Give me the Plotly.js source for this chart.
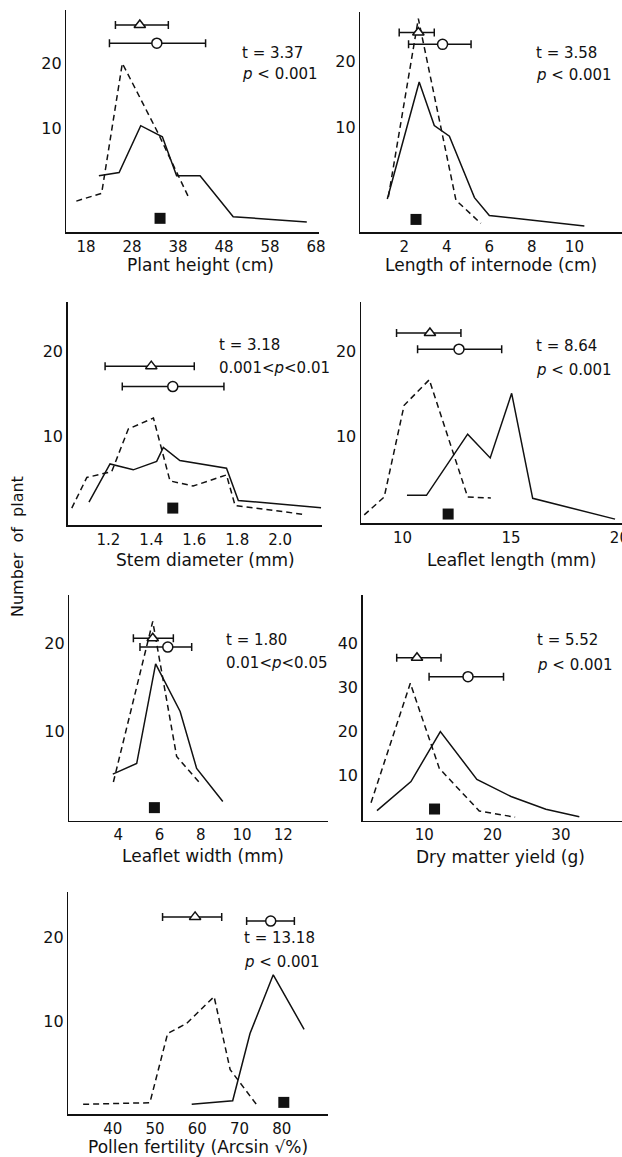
<!DOCTYPE html>
<html>
<head>
<meta charset="utf-8">
<script src="https://cdn.plot.ly/plotly-3.0.1.min.js"></script>
<style>html,body{margin:0;padding:0;background:#fff;}#chart{width:622px;height:1157px;}</style>
</head>
<body>
<div id="chart"></div>
<script>
// ---------- DATA ----------
// Panel 1: Plant height (cm)
const heightDashX  = [15.9, 21.4, 25.9, 33.5, 40.3];
const heightDashY  = [-1.2, 0, 20, 9.5, -0.6];
const heightSolidX = [20.8, 25.2, 29.9, 34.6, 37.7, 42.8, 50.0, 66.0];
const heightSolidY = [2.7, 3.2, 10.4, 8.7, 2.7, 2.7, -3.6, -4.4];
const heightMean   = [29.7, 33.4];   // triangle, circle
const heightLow    = [24.4, 23.1];
const heightHigh   = [35.9, 44.0];
const heightMeanY  = [25.9, 23.1];
const heightSquare = [34.1, -3.85];
const heightTicks  = [18, 28, 38, 48, 58, 68];

// Panel 2: Length of internode (cm)
const internodeDashX  = [1.25, 2.66, 4.43, 5.6];
const internodeDashY  = [-0.5, 26.5, -1.0, -4.5];
const internodeSolidX = [1.2, 2.7, 3.41, 4.12, 5.3, 6.0, 10.47];
const internodeSolidY = [-0.8, 16.9, 10.3, 8.7, -0.6, -3.3, -4.9];
const internodeMean   = [2.66, 3.8];
const internodeLow    = [1.76, 2.2];
const internodeHigh   = [3.41, 5.14];
const internodeMeanY  = [24.4, 22.6];
const internodeSquare = [2.55, -3.9];
const internodeTicks  = [2, 4, 6, 8, 10];

// Panel 3: Stem diameter (mm)
const stemDashX  = [1.03, 1.10, 1.216, 1.293, 1.41, 1.487, 1.595, 1.75, 1.79, 2.107];
const stemDashY  = [1.6, 5.2, 5.9, 10.9, 12.2, 4.8, 4.2, 5.5, 1.9, 0.87];
const stemSolidX = [1.11, 1.208, 1.316, 1.425, 1.456, 1.533, 1.75, 1.805, 2.19];
const stemSolidY = [2.3, 6.8, 6.1, 7.1, 8.75, 7.2, 6.3, 2.5, 1.65];
const stemMean   = [1.4, 1.5];
const stemLow    = [1.185, 1.265];
const stemHigh   = [1.6, 1.738];
const stemMeanY  = [18.3, 15.9];
const stemSquare = [1.5, 1.6];
const stemTicks  = [1.2, 1.4, 1.6, 1.8, 2.0];

// Panel 4: Leaflet length (mm)
const lengthDashX  = [8.23, 9.15, 10.07, 11.23, 13.0, 14.07];
const lengthDashY  = [0.8, 2.9, 13.7, 16.7, 2.9, 2.8];
const lengthSolidX = [10.2, 11.1, 13.0, 14.04, 15.03, 16.0, 19.8];
const lengthSolidY = [3.1, 3.1, 10.3, 7.5, 15.1, 2.75, 0.3];
const lengthMean   = [11.26, 12.6];
const lengthLow    = [9.72, 10.69];
const lengthHigh   = [12.69, 14.57];
const lengthMeanY  = [22.2, 20.3];
const lengthSquare = [12.1, 0.9];
const lengthTicks  = [10, 15, 20];

// Panel 5: Leaflet width (mm)
const widthDashX  = [3.76, 5.67, 6.83, 7.97];
const widthDashY  = [4.3, 22.5, 7.2, 4.15];
const widthSolidX = [3.73, 4.89, 5.81, 6.43, 7.0, 7.8, 9.07];
const widthSolidY = [5.2, 6.4, 17.7, 14.9, 12.3, 5.85, 2.1];
const widthMean   = [5.67, 6.4];
const widthLow    = [4.73, 5.05];
const widthHigh   = [6.67, 7.56];
const widthMeanY  = [20.6, 19.6];
const widthSquare = [5.75, 1.4];
const widthTicks  = [4, 6, 8, 10, 12];

// Panel 6: Dry matter yield (g)
const yieldDashX  = [2.2, 7.95, 12.2, 18.05, 23.3];
const yieldDashY  = [3.7, 30.9, 11.5, 1.8, 0.4];
const yieldSolidX = [3.07, 8.05, 12.35, 17.7, 22.7, 27.8, 32.7];
const yieldSolidY = [1.9, 8.5, 19.9, 9.0, 5.1, 2.2, 0.5];
const yieldMean   = [8.93, 16.4];
const yieldLow    = [5.96, 10.7];
const yieldHigh   = [12.45, 21.6];
const yieldMeanY  = [36.7, 32.4];
const yieldSquare = [11.5, 2.25];
const yieldTicks  = [10, 20, 30];

// Panel 7: Pollen fertility (Arcsin sqrt %)
const pollenDashX  = [33.0, 48.8, 53.0, 57.5, 64.0, 67.8, 74.1];
const pollenDashY  = [0.17, 0.36, 8.6, 9.8, 13.0, 4.3, 0.1];
const pollenSolidX = [58.7, 68.4, 72.5, 78.0, 85.3];
const pollenSolidY = [0.17, 0.6, 8.6, 15.6, 9.1];
const pollenMean   = [59.5, 77.4];
const pollenLow    = [51.8, 71.7];
const pollenHigh   = [65.8, 83.0];
const pollenMeanY  = [22.5, 22.0];
const pollenSquare = [80.5, 0.4];
const pollenTicks  = [40, 50, 60, 70, 80];

const countTicks  = [10, 20];
const yieldCountTicks = [10, 20, 30, 40];

const axisTitles = ['Plant height (cm)', 'Length of internode (cm)', 'Stem diameter (mm)',
  'Leaflet length (mm)', 'Leaflet width (mm)', 'Dry matter yield (g)',
  'Pollen fertility (Arcsin \u221A%)'];
const tLabels = ['t = 3.37', 't = 3.58', 't = 3.18', 't = 8.64', 't = 1.80', 't = 5.52', 't = 13.18'];
const pLabels = ['<i>p</i> < 0.001', '<i>p</i> < 0.001', '0.001<<i>p</i><0.01', '<i>p</i> < 0.001',
  '0.01<<i>p</i><0.05', '<i>p</i> < 0.001', '<i>p</i> < 0.001'];

// ---------- LAYOUT GEOMETRY (pixels) ----------
const W = 622, H = 1157;
const FONT = 'DejaVu Sans';
const panels = [
  {dx: heightDashX, dy: heightDashY, sx: heightSolidX, sy: heightSolidY, m: heightMean, lo: heightLow, hi: heightHigh, my: heightMeanY, sq: heightSquare, xt: heightTicks, yt: countTicks,
   px: [66.3, 319.3], py: [10, 232.3], xr: [13.72, 68.72], yr: [-6.0, 28.2], title: [200, 265], txt: [240, 53, 74]},
  {dx: internodeDashX, dy: internodeDashY, sx: internodeSolidX, sy: internodeSolidY, m: internodeMean, lo: internodeLow, hi: internodeHigh, my: internodeMeanY, sq: internodeSquare, xt: internodeTicks, yt: countTicks,
   px: [360.3, 622], py: [12, 232.3], xr: [-0.07, 12.24], yr: [-5.85, 27.5], title: [491, 265], txt: [534, 53, 75]},
  {dx: stemDashX, dy: stemDashY, sx: stemSolidX, sy: stemSolidY, m: stemMean, lo: stemLow, hi: stemHigh, my: stemMeanY, sq: stemSquare, xt: stemTicks, yt: countTicks, fmt: '.1f',
   px: [67.7, 321.7], py: [302, 525], xr: [1.011, 2.193], yr: [-0.39, 25.85], title: [205, 560], txt: [216.7, 345, 368.3]},
  {dx: lengthDashX, dy: lengthDashY, sx: lengthSolidX, sy: lengthSolidY, m: lengthMean, lo: lengthLow, hi: lengthHigh, my: lengthMeanY, sq: lengthSquare, xt: lengthTicks, yt: countTicks,
   px: [361, 622], py: [302, 523.3], xr: [8.08, 20.12], yr: [-0.19, 25.85], title: [511, 560], txt: [534, 346, 370]},
  {dx: widthDashX, dy: widthDashY, sx: widthSolidX, sy: widthSolidY, m: widthMean, lo: widthLow, hi: widthHigh, my: widthMeanY, sq: widthSquare, xt: widthTicks, yt: countTicks,
   px: [69.3, 328.3], py: [595, 820.7], xr: [1.62, 14.19], yr: [-0.08, 25.5], title: [203.3, 856], txt: [224, 640, 663.3]},
  {dx: yieldDashX, dy: yieldDashY, sx: yieldSolidX, sy: yieldSolidY, m: yieldMean, lo: yieldLow, hi: yieldHigh, my: yieldMeanY, sq: yieldSquare, xt: yieldTicks, yt: yieldCountTicks,
   px: [362.7, 622], py: [595, 820.7], xr: [0.98, 38.95], yr: [-0.41, 51.0], title: [501, 857], txt: [535, 640, 665]},
  {dx: pollenDashX, dy: pollenDashY, sx: pollenSolidX, sy: pollenSolidY, m: pollenMean, lo: pollenLow, hi: pollenHigh, my: pollenMeanY, sq: pollenSquare, xt: pollenTicks, yt: countTicks,
   px: [68.3, 328.3], py: [891.7, 1114.3], xr: [29.49, 91.03], yr: [-1.02, 25.5], title: [198, 1147], txt: [241.7, 938.3, 961.7]}
];

const traces = [];
const layout = {
  width: W, height: H,
  margin: {l: 0, r: 0, t: 0, b: 0, pad: 0},
  paper_bgcolor: '#fff', plot_bgcolor: 'rgba(0,0,0,0)',
  showlegend: false,
  font: {family: FONT, size: 15, color: '#111'},
  annotations: []
};

const fx = p => p / W;
const fy = p => 1 - p / H;

panels.forEach((P, i) => {
  const n = i + 1;
  const xa = 'x' + (n === 1 ? '' : n), ya = 'y' + (n === 1 ? '' : n);
  const xk = 'xaxis' + (n === 1 ? '' : n), yk = 'yaxis' + (n === 1 ? '' : n);
  layout[xk] = {
    domain: [fx(P.px[0]), fx(P.px[1])], range: P.xr, anchor: ya,
    showline: true, linecolor: '#111', linewidth: 1.5, showgrid: false, zeroline: false,
    ticks: '', tickmode: 'array', tickvals: P.xt, ticklabeloverflow: 'allow',
    ticktext: P.xt.map(v => P.fmt ? v.toFixed(1) : String(v)),
    tickfont: {family: FONT, size: 15, color: '#111'}, fixedrange: true
  };
  layout[yk] = {
    domain: [fy(P.py[1]), fy(P.py[0])], range: P.yr, anchor: xa,
    showline: true, linecolor: '#111', linewidth: 1.5, showgrid: false, zeroline: false,
    ticks: '', tickmode: 'array', tickvals: P.yt, ticktext: P.yt.map(String),
    tickfont: {family: FONT, size: 16, color: '#111'}, fixedrange: true
  };
  // dashed distribution
  traces.push({type: 'scatter', mode: 'lines', x: P.dx, y: P.dy, xaxis: xa, yaxis: ya,
    line: {color: '#111', width: 1.5, dash: '6px,4px'}, hoverinfo: 'skip', cliponaxis: false});
  // solid distribution
  traces.push({type: 'scatter', mode: 'lines', x: P.sx, y: P.sy, xaxis: xa, yaxis: ya,
    line: {color: '#111', width: 1.5}, hoverinfo: 'skip', cliponaxis: false});
  // mean with range bars (triangle, circle)
  const syms = ['triangle-up', 'circle'];
  for (let k = 0; k < 2; k++) {
    traces.push({type: 'scatter', mode: 'markers', x: [P.m[k]], y: [P.my[k]], xaxis: xa, yaxis: ya,
      error_x: {type: 'data', symmetric: false, array: [P.hi[k] - P.m[k]], arrayminus: [P.m[k] - P.lo[k]],
        color: '#111', thickness: 1.5, width: 4},
      marker: {symbol: syms[k], size: 10, color: '#fff', line: {color: '#111', width: 1.5}},
      hoverinfo: 'skip', cliponaxis: false});
  }
  // black square
  traces.push({type: 'scatter', mode: 'markers', x: [P.sq[0]], y: [P.sq[1]], xaxis: xa, yaxis: ya,
    marker: {symbol: 'square', size: 11, color: '#111'}, hoverinfo: 'skip', cliponaxis: false});

  // axis title
  layout.annotations.push({xref: 'paper', yref: 'paper', x: fx(P.title[0]), y: fy(P.title[1]),
    xanchor: 'center', yanchor: 'middle', showarrow: false, text: axisTitles[i],
    font: {family: FONT, size: 17, color: '#111'}});
  // statistics
  layout.annotations.push({xref: 'paper', yref: 'paper', x: fx(P.txt[0]), y: fy(P.txt[1]),
    xanchor: 'left', yanchor: 'middle', showarrow: false, text: tLabels[i],
    font: {family: FONT, size: 15, color: '#111'}});
  layout.annotations.push({xref: 'paper', yref: 'paper', x: fx(P.txt[0]), y: fy(P.txt[2]),
    xanchor: 'left', yanchor: 'middle', showarrow: false, text: pLabels[i],
    font: {family: FONT, size: 15, color: '#111'}});
});

// shared y title
layout.annotations.push({xref: 'paper', yref: 'paper', x: fx(18), y: fy(547),
  xanchor: 'center', yanchor: 'middle', showarrow: false, textangle: -90,
  text: 'Number  of  plant', font: {family: FONT, size: 16, color: '#111'}});

Plotly.newPlot('chart', traces, layout, {staticPlot: true, displayModeBar: false});
</script>
</body>
</html>
